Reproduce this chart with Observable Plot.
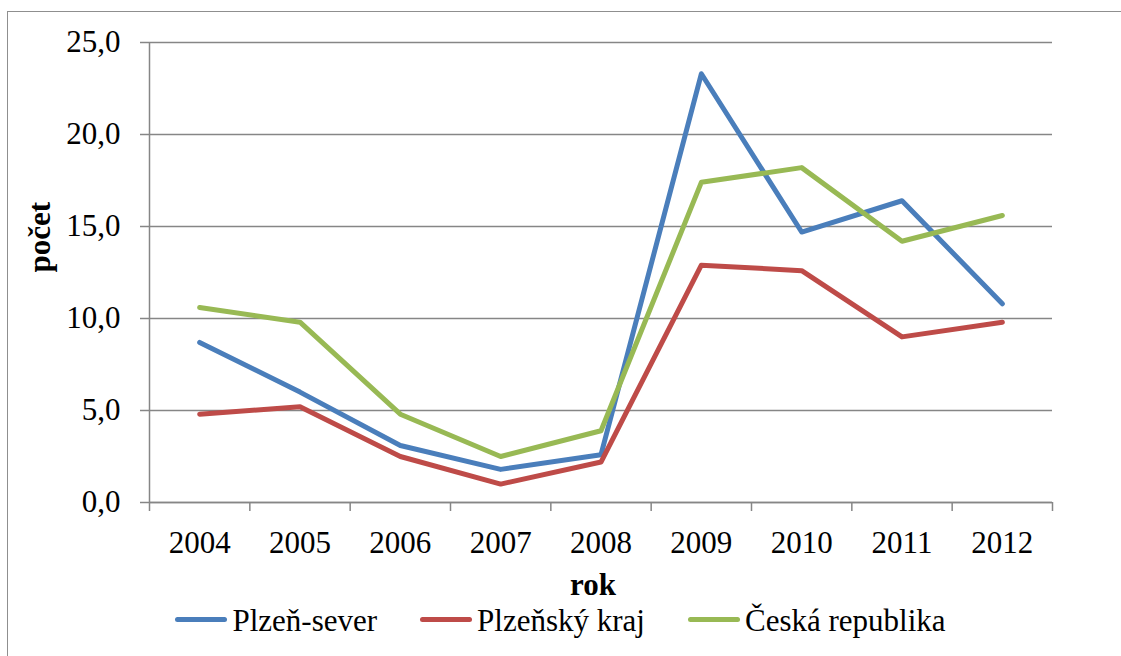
<!DOCTYPE html>
<html><head><meta charset="utf-8">
<script src="https://cdn.jsdelivr.net/npm/d3@7"></script>
<script src="https://cdn.jsdelivr.net/npm/@observablehq/plot@0.6"></script>
<style>
body{margin:0;background:#fff;}
#wrap{position:relative;width:1121px;height:656px;overflow:hidden;font-family:"Liberation Serif","Times New Roman",Tinos,"DejaVu Serif",serif;background:#fff;}
#chart{position:absolute;left:0;top:0;}
#frame{position:absolute;left:7px;top:11px;width:1200px;height:700px;border:1.5px solid #8f8f8f;box-sizing:border-box;pointer-events:none;z-index:2;}
#legend{position:absolute;left:0;top:601px;width:1121px;height:40px;display:flex;justify-content:center;align-items:center;font-size:31px;line-height:40px;color:#000;}
.item{display:flex;align-items:center;margin:0 21.5px;white-space:nowrap;}
.swatch{width:52px;height:5px;border-radius:2.5px;margin-right:5px;margin-top:-3px;}
</style></head>
<body><div id="wrap"><div id="chart"></div><div id="legend"></div><div id="frame"></div></div>
<script>
const years = [2004, 2005, 2006, 2007, 2008, 2009, 2010, 2011, 2012];
const plzenSever = [8.7, 6.0, 3.1, 1.8, 2.6, 23.3, 14.7, 16.4, 10.8];
const plzenskyKraj = [4.8, 5.2, 2.5, 1.0, 2.2, 12.9, 12.6, 9.0, 9.8];
const ceskaRepublika = [10.6, 9.8, 4.8, 2.5, 3.9, 17.4, 18.2, 14.2, 15.6];
const seriesNames = ["Plzeň-sever", "Plzeňský kraj", "Česká republika"];
const seriesColors = ["#4a7ebb", "#be4b48", "#98b954"];
const yTicks = [0, 5, 10, 15, 20, 25];
const xLabel = "rok";
const yLabel = "počet";

const seriesValues = [plzenSever, plzenskyKraj, ceskaRepublika];
const table = [];
seriesNames.forEach((s, i) => years.forEach((yr, j) => table.push({series: s, year: yr, value: seriesValues[i][j]})));
const boundaries = years.map(y => y - 0.5).concat([years[years.length - 1] + 0.5]);
const gray = "#868686";
const serif = "\"Liberation Serif\", \"Times New Roman\", Tinos, \"DejaVu Serif\", serif";

const chart = Plot.plot({
  width: 1121, height: 600,
  marginLeft: 149, marginRight: 69, marginTop: 42, marginBottom: 98,
  style: {fontFamily: serif, fontSize: "31px", color: "#000", background: "transparent", overflow: "visible"},
  x: {type: "linear", domain: [boundaries[0], boundaries[boundaries.length - 1]]},
  y: {domain: [0, 25]},
  color: {domain: seriesNames, range: seriesColors},
  marks: [
    Plot.gridY(yTicks, {stroke: gray, strokeOpacity: 1, strokeWidth: 1.5}),
    Plot.ruleX([boundaries[0]], {stroke: gray, strokeWidth: 1.5}),
    Plot.ruleY([0], {stroke: gray, strokeWidth: 1.5}),
    Plot.axisY(yTicks, {tickSize: 9, tickPadding: 20, stroke: gray, strokeWidth: 1.5, tickFormat: d => d.toFixed(1).replace(".", ","), label: null, fontFamily: serif}),
    Plot.axisX(boundaries, {tickSize: 9, stroke: gray, strokeWidth: 1.5, tickFormat: () => "", label: null}),
    Plot.axisX(years, {tickSize: 0, tickPadding: 28, tickFormat: d => String(d), label: null, fontFamily: serif}),
    Plot.line(table, {x: "year", y: "value", z: "series", stroke: "series", strokeWidth: 5, strokeLinejoin: "round", strokeLinecap: "round"}),
    Plot.text([xLabel], {frameAnchor: "bottom", dy: 92, dx: -8, lineAnchor: "bottom", fontWeight: "bold", fill: "#000", fontFamily: serif}),
    Plot.text([yLabel], {frameAnchor: "left", dx: -100, rotate: -90, lineAnchor: "bottom", fontWeight: "bold", fill: "#000", fontFamily: serif})
  ]
});
document.getElementById("chart").appendChild(chart);

const legend = document.getElementById("legend");
seriesNames.forEach((name, i) => {
  const item = document.createElement("div");
  item.className = "item";
  const sw = document.createElement("span");
  sw.className = "swatch";
  sw.style.background = seriesColors[i];
  const label = document.createElement("span");
  label.textContent = name;
  item.appendChild(sw);
  item.appendChild(label);
  legend.appendChild(item);
});
</script>
</body></html>
